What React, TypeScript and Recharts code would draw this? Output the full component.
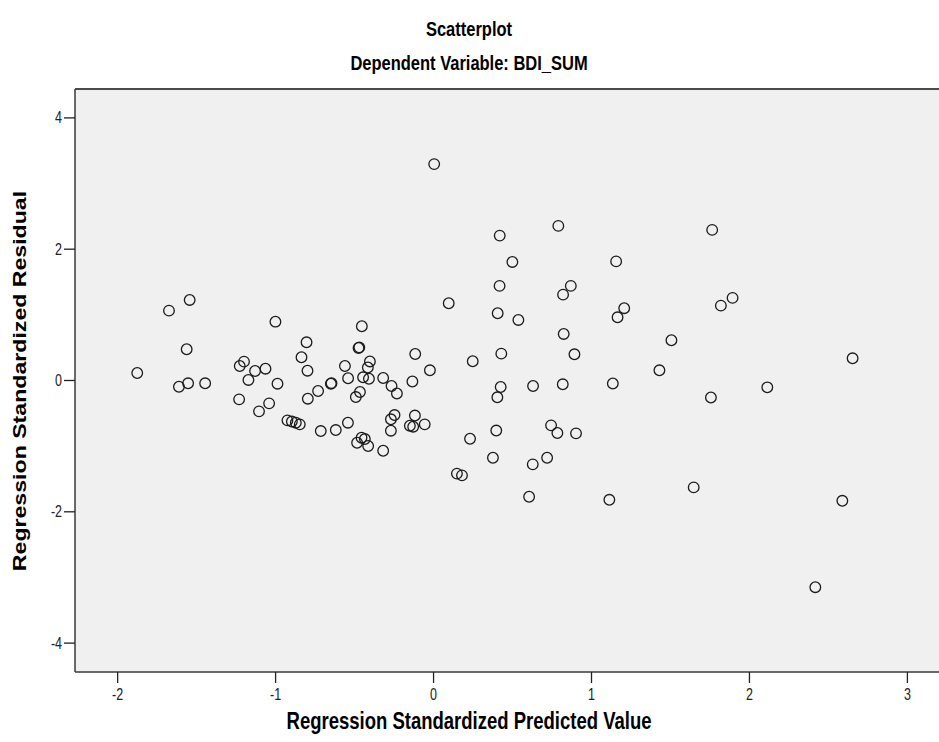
import { ScatterChart, Scatter, XAxis, YAxis, CartesianGrid, ReferenceLine, Label } from "recharts";

// Regression standardized predicted value (x) and standardized residual (y), one entry per case
const predicted = [
  -1.876, -1.675, -1.544, -1.563, -1.612, -1.554, -1.446, -1.227, -1.2, -1.13,
  -1.064, -1.172, -0.988, -1.231, -1.105, -1.041, -1.001, -0.925, -0.897, -0.872,
  -0.847, -0.804, -0.836, -0.798, -0.731, -0.65, -0.646, -0.796, -0.714, -0.619,
  -0.542, -0.561, -0.541, -0.454, -0.475, -0.47, -0.403, -0.416, -0.446, -0.409,
  -0.319, -0.266, -0.232, -0.466, -0.492, -0.27, -0.247, -0.27, -0.484, -0.456,
  -0.435, -0.414, -0.319, -0.116, -0.134, -0.118, -0.15, -0.129, -0.056, -0.023,
  0.004, 0.096, 0.248, 0.231, 0.148, 0.18, 0.376, 0.397, 0.404, 0.425,
  0.418, 0.406, 0.419, 0.429, 0.499, 0.537, 0.63, 0.628, 0.605, 0.719,
  0.744, 0.784, 0.902, 0.79, 0.869, 0.82, 0.824, 0.892, 0.818, 1.113,
  1.135, 1.156, 1.165, 1.207, 1.43, 1.506, 1.647, 1.756, 1.764, 1.819,
  1.893, 2.113, 2.417, 2.588, 2.653,
];
const residual = [
  0.114, 1.064, 1.227, 0.476, -0.095, -0.043, -0.043, 0.221, 0.287, 0.145,
  0.18, 0.008, -0.049, -0.287, -0.47, -0.348, 0.896, -0.607, -0.625, -0.643,
  -0.668, 0.582, 0.354, 0.149, -0.16, -0.049, -0.04, -0.277, -0.77, -0.755,
  -0.643, 0.221, 0.034, 0.826, 0.495, 0.505, 0.29, 0.198, 0.049, 0.027,
  0.038, -0.084, -0.198, -0.175, -0.252, -0.591, -0.526, -0.765, -0.948, -0.872,
  -0.892, -0.998, -1.07, 0.404, -0.015, -0.534, -0.689, -0.704, -0.668, 0.155,
  3.296, 1.177, 0.293, -0.887, -1.418, -1.445, -1.177, -0.762, -0.256, -0.099,
  1.441, 1.024, 2.207, 0.409, 1.806, 0.922, -0.084, -1.277, -1.771, -1.177,
  -0.683, -0.8, -0.805, 2.355, 1.441, 1.308, 0.709, 0.399, -0.058, -1.817,
  -0.046, 1.814, 0.963, 1.101, 0.155, 0.613, -1.628, -0.259, 2.294, 1.14,
  1.258, -0.104, -3.148, -1.832, 0.338,
];
const xTicks = [-2, -1, 0, 1, 2, 3];
const yTicks = [-4, -2, 0, 2, 4];

const points = predicted.map((x, i) => ({ x, y: residual[i] }));

const FONT = "'Liberation Sans', Arial, sans-serif";
const Y_MAX = 4.44;
// the source image is stretched vertically, so text is drawn taller than wide
const STRETCH = 1.25;

function Ring(props: any) {
  const { cx, cy } = props;
  if (cx == null || cy == null) return null;
  return <circle cx={cx} cy={cy} r={5.3} fill="none" stroke="#1a1a1a" strokeWidth={1.3} />;
}

function XTick({ x, y, payload }: any) {
  return (
    <text
      transform={`translate(${x} ${y + 14}) scale(1 ${STRETCH})`}
      textAnchor="middle"
      fontSize={12.5}
      fill="#222"
      fontFamily={FONT}
    >
      {payload.value}
    </text>
  );
}

function YTick({ x, y, payload }: any) {
  return (
    <text
      transform={`translate(${x} ${y + 5.6}) scale(1 ${STRETCH})`}
      textAnchor="end"
      fontSize={12.5}
      fill="#222"
      fontFamily={FONT}
    >
      {payload.value}
    </text>
  );
}

function Heading({ x, y, size, children }: any) {
  return (
    <text
      transform={`translate(${x} ${y}) scale(1 ${STRETCH})`}
      textAnchor="middle"
      fontSize={size}
      fontWeight="bold"
      fill="#000"
      fontFamily={FONT}
    >
      {children}
    </text>
  );
}

export default function App() {
  return (
    <div style={{ position: "absolute", left: 0, top: 0, width: 939, height: 742, background: "#fff" }}>
      <ScatterChart
        width={939}
        height={742}
        margin={{ top: 89, right: 0, bottom: 0, left: 0 }}
        style={{ fontFamily: FONT }}
      >
        <CartesianGrid horizontal={false} vertical={false} fill="#f0f0f0" stroke="none" />
        <XAxis
          type="number"
          dataKey="x"
          domain={[-2.27, 3.2]}
          ticks={xTicks}
          height={70}
          axisLine={{ stroke: "#3a3a3a", strokeWidth: 1.5 }}
          tickLine={{ stroke: "#222", strokeWidth: 1.3 }}
          tickSize={11}
          tickMargin={3}
          tick={<XTick />}
        >
          <Label content={() => <Heading x={469} y={729} size={18.5}>Regression Standardized Predicted Value</Heading>} />
        </XAxis>
        <YAxis
          type="number"
          dataKey="y"
          domain={[-Y_MAX, Y_MAX]}
          ticks={yTicks}
          width={75}
          axisLine={{ stroke: "#3a3a3a", strokeWidth: 1.5 }}
          tickLine={{ stroke: "#222", strokeWidth: 1.3 }}
          tickSize={11}
          tickMargin={2}
          tick={<YTick />}
        >
          <Label
            content={() => (
              <text
                transform={`translate(26 381) scale(1 ${STRETCH}) rotate(-90)`}
                textAnchor="middle"
                fontSize={18.5}
                fontWeight="bold"
                fill="#000"
                fontFamily={FONT}
              >
                Regression Standardized Residual
              </text>
            )}
          />
        </YAxis>
        <ReferenceLine y={Y_MAX} stroke="#4a4a4a" strokeWidth={2} />
        <Scatter data={points} shape={<Ring />} isAnimationActive={false} />
        <Heading x={469} y={36} size={16.5}>Scatterplot</Heading>
        <Heading x={469} y={70} size={16.5}>Dependent Variable: BDI_SUM</Heading>
      </ScatterChart>
    </div>
  );
}
